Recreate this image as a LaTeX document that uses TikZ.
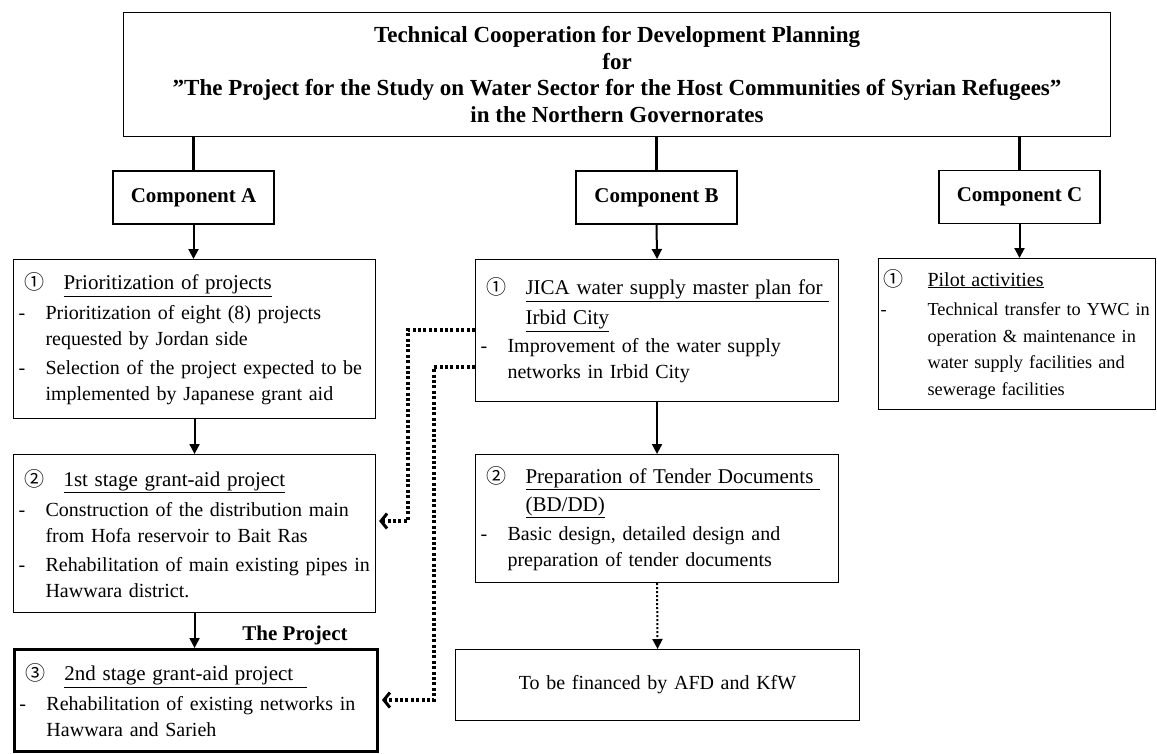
\documentclass[tikz,border=0pt]{standalone}
\usepackage{fontspec}
\setmainfont{Liberation Serif}
\newfontfamily\circfont{Noto Sans CJK JP}
\usepackage{tikz}
\usetikzlibrary{arrows.meta}

\newcommand{\bodyfs}{\fontsize{20}{26}\selectfont}
\newcommand{\hdfs}{\fontsize{21}{26}\selectfont}
\newcommand{\hd}[2]{{\hdfs\hspace*{6pt}\makebox[39pt][l]{\circfont\fontsize{20}{26}\selectfont #1}\underline{#2}}}
\newcommand{\hdcont}[1]{{\hdfs\hspace*{45pt}\underline{#1}}}
\newcommand{\dsh}[1]{\makebox[27pt][l]{-}\mbox{#1}}
\newcommand{\ind}[1]{\hspace*{27pt}\mbox{#1}}
% wider indent used in the pilot box
\newcommand{\hdc}[2]{{\fontsize{20}{26}\selectfont\hspace*{3pt}\makebox[44pt][l]{\circfont #1}\underline{#2}}}
\newcommand{\dshc}[1]{\makebox[47pt][l]{-}\mbox{#1}}
\newcommand{\indc}[1]{\hspace*{47pt}\mbox{#1}}

\begin{document}
\begin{tikzpicture}[x=1pt,y=-1pt,
    box/.style={draw,line width=1.1pt,anchor=north west,inner xsep=5pt,inner ysep=0pt,align=left,font=\bodyfs},
    comp/.style={draw,line width=1.1pt,minimum width=161,minimum height=53,font=\fontsize{21}{25}\selectfont\bfseries},
    down/.style={line width=2pt,-{Triangle[length=10pt,width=10pt]}},
    link/.style={line width=3.2pt,dash pattern=on 3pt off 2.4pt,-{Straight Barb[length=6pt,width=15pt,line width=3pt]},shorten >=3pt}]
  \useasboundingbox (0,0) rectangle (1157,753);

  % title
  \node[draw,line width=1.1pt,anchor=north west,minimum width=987,minimum height=124,align=center,
        font=\fontsize{23}{26.6}\selectfont\bfseries] (top) at (123,12)
    {Technical Cooperation for Development Planning\\for\\”The Project for the Study on Water Sector for the Host Communities of Syrian Refugees”\\in the Northern Governorates};

  % components
  \node[comp] (compA) at (193.5,197.5) {Component A};
  \node[comp] (compB) at (656.5,197.5) {Component B};
  \node[comp] (compC) at (1019.5,197)  {Component C};

  % component A
  \node[box,minimum width=362,text width=352,minimum height=159] (a1) at (13,259)
    {\hd{①}{Prioritization of projects}\\[4pt]
     \dsh{Prioritization of eight (8) projects}\\
     \ind{requested by Jordan side}\\[3pt]
     \dsh{Selection of the project expected to be}\\
     \ind{implemented by Japanese grant aid}};
  \node[box,minimum width=362,text width=352,minimum height=158] (a2) at (13,454)
    {\hd{②}{1st stage grant-aid project}\\[4pt]
     \dsh{Construction of the distribution main}\\
     \ind{from Hofa reservoir to Bait Ras}\\[3pt]
     \dsh{Rehabilitation of main existing pipes in}\\
     \ind{Hawwara district.}};
  \node[box,line width=3pt,minimum width=363,text width=353,minimum height=102] (a3) at (13,648)
    {\hd{③}{2nd stage grant-aid project\ \ }\\[4pt]
     \dsh{Rehabilitation of existing networks in}\\
     \ind{Hawwara and Sarieh}};
  \node[font=\fontsize{21}{25}\selectfont\bfseries] (proj) at (295,635) {The Project};

  % component B
  \node[box,minimum width=363,text width=353,minimum height=142] (b1) at (475,259)
    {\hd{①}{JICA water supply master plan for\ }\\[4pt]
     \hdcont{Irbid City}\\[2pt]
     \dsh{Improvement of the water supply}\\
     \ind{networks in Irbid City}};
  \node[box,minimum width=363,text width=353,minimum height=128] (b2) at (475,454)
    {\hd{②}{Preparation of Tender Documents\ }\\[2pt]
     \hdcont{(BD/DD)}\\[3pt]
     \dsh{Basic design, detailed design and}\\
     \ind{preparation of tender documents}};
  \node[box,align=center,minimum width=404,text width=394,minimum height=71] (b3) at (455,649)
    {To be financed by AFD and KfW};

  % component C
  \node[box,inner xsep=2pt,minimum width=277,text width=273,minimum height=151,
        font=\fontsize{18.3}{26.5}\selectfont] (c1) at (878,258)
    {\hdc{①}{Pilot activities}\\[3pt]
     \dshc{Technical transfer to YWC in}\\
     \indc{operation \& maintenance in}\\
     \indc{water supply facilities and}\\
     \indc{sewerage facilities}};

  % connectors
  \draw[line width=2.4pt] (compA.north |- top.south) -- (compA.north);
  \draw[line width=2.4pt] (compB.north |- top.south) -- (compB.north);
  \draw[line width=2.4pt] (compC.north |- top.south) -- (compC.north);
  \draw[down] (compA.south) -- (compA.south |- a1.north);
  \draw[down] (a1.south) -- (a2.north);
  \draw[down] (a2.south) -- (a2.south |- a3.north);
  \draw[down] (compB.south) -- (b1.north);
  \draw[down] (b1.south) -- (b2.north);
  \draw[line width=2pt,dash pattern=on 2pt off 2pt,-{Triangle[length=10pt,width=10pt]}] (b2.south) -- (b3.north);
  \draw[down] (compC.south) -- (compC.south |- c1.north);
  \draw[link] (b1.west |- 0,330) -- (408,330) |- (a2.east |- 0,521);
  \draw[link] (b1.west |- 0,367) -- (434,367) |- (a3.east |- 0,700);
\end{tikzpicture}
\end{document}
